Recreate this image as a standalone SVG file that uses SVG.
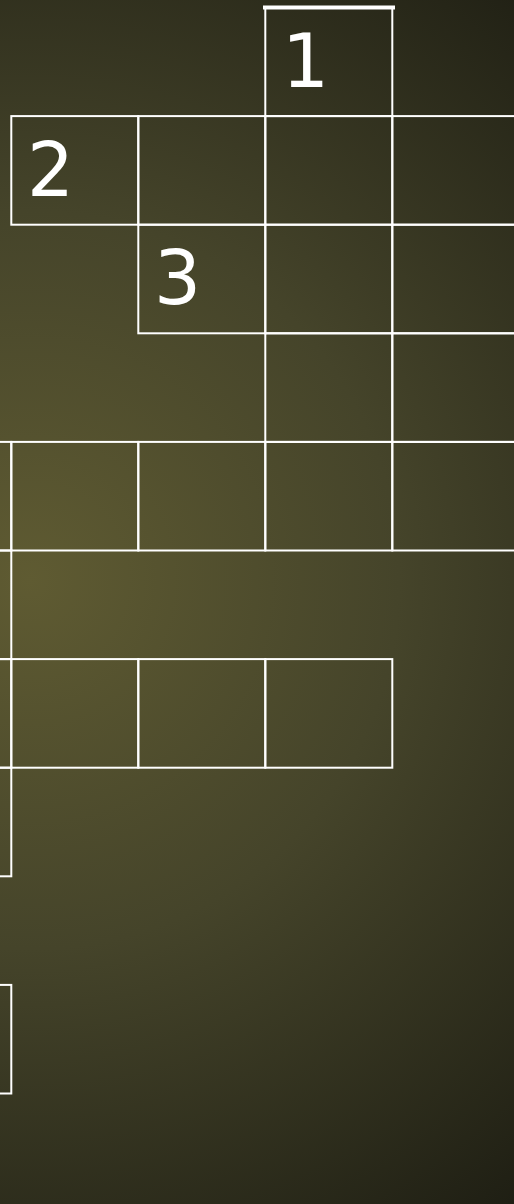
<svg xmlns="http://www.w3.org/2000/svg" width="514" height="1204" viewBox="0 0 514 1204">
<defs>
<radialGradient id="bg" gradientUnits="userSpaceOnUse" cx="30" cy="580" r="820">
<stop offset="0" stop-color="#5f5b32"/>
<stop offset="0.45" stop-color="#45442a"/>
<stop offset="1" stop-color="#1c1c12"/>
</radialGradient>
<rect id="cell" width="127" height="108.6"/>
</defs>
<style>
.c use, .c rect { fill: none; stroke: #ffffff; stroke-width: 2; }
.num { font-family: "DejaVu Sans", Verdana, sans-serif; font-size: 74px; fill: #ffffff; }
</style>
<rect x="0" y="0" width="514" height="1204" fill="url(#bg)"/>
<g class="c" id="row0">
<use href="#cell" x="265.3" y="7.5"/>
<line x1="263" y1="7.5" x2="395" y2="7.5" stroke="#ffffff" stroke-width="4"/>
</g>
<g class="c" id="row1">
<use href="#cell" x="11.3" y="116.1"/>
<use href="#cell" x="138.3" y="116.1"/>
<use href="#cell" x="265.3" y="116.1"/>
<use href="#cell" x="392.3" y="116.1"/>
</g>
<g class="c" id="row2">
<use href="#cell" x="138.3" y="224.7"/>
<use href="#cell" x="265.3" y="224.7"/>
<use href="#cell" x="392.3" y="224.7"/>
</g>
<g class="c" id="row3">
<use href="#cell" x="265.3" y="333.3"/>
<use href="#cell" x="392.3" y="333.3"/>
</g>
<g class="c" id="row4">
<use href="#cell" x="-115.7" y="441.9"/>
<use href="#cell" x="11.3" y="441.9"/>
<use href="#cell" x="138.3" y="441.9"/>
<use href="#cell" x="265.3" y="441.9"/>
<use href="#cell" x="392.3" y="441.9"/>
</g>
<g class="c" id="row5">
<use href="#cell" x="-115.7" y="550.5"/>
</g>
<g class="c" id="row6">
<use href="#cell" x="-115.7" y="659.1"/>
<use href="#cell" x="11.3" y="659.1"/>
<use href="#cell" x="138.3" y="659.1"/>
<use href="#cell" x="265.3" y="659.1"/>
</g>
<g class="c" id="row7">
<use href="#cell" x="-115.7" y="767.7"/>
</g>
<g class="c" id="row9">
<use href="#cell" x="-115.7" y="984.9"/>
</g>
<g id="labels">
<text class="num" x="282" y="87">1</text>
<text class="num" x="27" y="196">2</text>
<text class="num" x="154" y="304">3</text>
</g>
</svg>
